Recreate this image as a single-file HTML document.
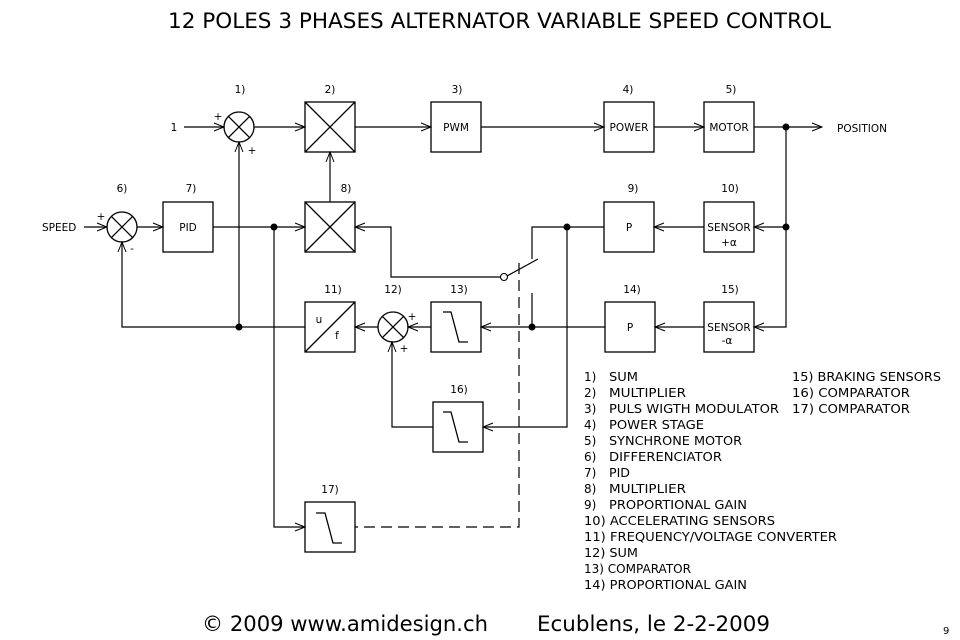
<!DOCTYPE html>
<html><head><meta charset="utf-8"><style>
html,body{margin:0;padding:0;background:#fff;}
svg{display:block;font-family:"DejaVu Sans","Liberation Sans",sans-serif;}
</style></head><body>
<svg width="960" height="640" viewBox="0 0 960 640" xmlns="http://www.w3.org/2000/svg">
<defs>
<marker id="a" markerWidth="12" markerHeight="12" refX="11" refY="6" orient="auto" markerUnits="userSpaceOnUse">
<path d="M1,2 L11,6 L1,10" fill="none" stroke="#000" stroke-width="1"/>
</marker>
</defs>
<rect width="960" height="640" fill="#fff"/>
<text x="168" y="28" font-size="21" textLength="663" lengthAdjust="spacingAndGlyphs">12 POLES 3 PHASES ALTERNATOR VARIABLE SPEED CONTROL</text>

<g fill="none" stroke="#000" stroke-width="1.3">
<rect x="305" y="102" width="50" height="50"/><path d="M305,102L355,152M355,102L305,152"/>
<rect x="431" y="102" width="50" height="50"/>
<rect x="604" y="102" width="50" height="50"/>
<rect x="704" y="102" width="50" height="50"/>
<rect x="163" y="202" width="50" height="50"/>
<rect x="305" y="202" width="50" height="50"/><path d="M305,202L355,252M355,202L305,252"/>
<rect x="604" y="202" width="50" height="50"/>
<rect x="704" y="202" width="50" height="50"/>
<rect x="305" y="302" width="50" height="50"/><path d="M305,352L355,302"/>
<rect x="431" y="302" width="50" height="50"/><path d="M443,312H451L459,342H468"/>
<rect x="605" y="302" width="50" height="50"/>
<rect x="704" y="302" width="50" height="50"/>
<rect x="433" y="402" width="50" height="50"/><path d="M443,412H451L459,442H468"/>
<rect x="305" y="502" width="50" height="50"/><path d="M316,513H325L333,543H342"/>
<circle cx="239" cy="127" r="15"/><path d="M228.4,116.4L249.6,137.6M249.6,116.4L228.4,137.6"/>
<circle cx="122" cy="227" r="15"/><path d="M111.4,216.4L132.6,237.6M132.6,216.4L111.4,237.6"/>
<circle cx="393" cy="327" r="15"/><path d="M382.4,316.4L403.6,337.6M403.6,316.4L382.4,337.6"/>
</g>

<g fill="none" stroke="#000" stroke-width="1.2" marker-end="url(#a)">
<path d="M184,127H224"/>
<path d="M254,127H305"/>
<path d="M355,127H431"/>
<path d="M481,127H604"/>
<path d="M654,127H704"/>
<path d="M754,127H822"/>
<path d="M84,227H107"/>
<path d="M137,227H163"/>
<path d="M213,227H305"/>
<path d="M330,202V152"/>
<path d="M239,327V142"/>
<path d="M305,327H122V242"/>
<path d="M704,227H654"/>
<path d="M786,227H754"/>
<path d="M786,127V327H754"/>
<path d="M704,327H655"/>
<path d="M605,327H481"/>
<path d="M431,327H408"/>
<path d="M378,327H355"/>
<path d="M433,427H392V342"/>
<path d="M567,227V427H483"/>
<path d="M274,227V527H305"/>
<path d="M504,277H391V227H355"/>
</g>
<g fill="none" stroke="#000" stroke-width="1.2">
<path d="M604,227H532V259"/>
<path d="M532,293V327"/>
<path d="M507,276L538,259"/>
<path d="M519,263V527H355" stroke-dasharray="11,6"/>
</g>
<circle cx="504" cy="277" r="3.5" fill="#fff" stroke="#000" stroke-width="1.1"/>
<g fill="#000">
<circle cx="786" cy="127" r="3.5"/><circle cx="786" cy="227" r="3.5"/>
<circle cx="274" cy="227" r="3.5"/><circle cx="239" cy="327" r="3.5"/>
<circle cx="567" cy="227" r="3.5"/><circle cx="532" cy="327" r="3.5"/>
</g>

<g font-size="10.5" text-anchor="middle">
<text x="240" y="93">1)</text><text x="330" y="93">2)</text><text x="457" y="93">3)</text>
<text x="628" y="93">4)</text><text x="731" y="93">5)</text>
<text x="122" y="192">6)</text><text x="191" y="192">7)</text><text x="346" y="192">8)</text>
<text x="633" y="192">9)</text><text x="730" y="192">10)</text>
<text x="333" y="293">11)</text><text x="393" y="293">12)</text><text x="459" y="293">13)</text>
<text x="632" y="293">14)</text><text x="730" y="293">15)</text>
<text x="459" y="393">16)</text><text x="330" y="493">17)</text>
<text x="456" y="131">PWM</text><text x="629" y="131">POWER</text><text x="729" y="131">MOTOR</text>
<text x="188" y="231">PID</text><text x="629" y="231">P</text>
<text x="729" y="231">SENSOR</text><text x="729" y="246">+α</text>
<text x="630" y="331">P</text>
<text x="729" y="331">SENSOR</text><text x="727" y="344">-α</text>
<text x="319" y="323">u</text><text x="337" y="339">f</text>
<text x="174" y="131">1</text>
<text x="218" y="120">+</text><text x="252" y="154">+</text>
<text x="101" y="220">+</text><text x="132" y="252">-</text>
<text x="412" y="320">+</text><text x="404" y="352">+</text>
</g>
<text x="42" y="231" font-size="10.5">SPEED</text>
<text x="837" y="132" font-size="10.5">POSITION</text>

<g font-size="12" lengthAdjust="spacingAndGlyphs">
<text x="584" y="381">1)</text><text x="609" y="381" textLength="29" lengthAdjust="spacingAndGlyphs">SUM</text>
<text x="584" y="397">2)</text><text x="609" y="397" textLength="77" lengthAdjust="spacingAndGlyphs">MULTIPLIER</text>
<text x="584" y="413">3)</text><text x="609" y="413" textLength="170" lengthAdjust="spacingAndGlyphs">PULS WIGTH MODULATOR</text>
<text x="584" y="429">4)</text><text x="609" y="429" textLength="95" lengthAdjust="spacingAndGlyphs">POWER STAGE</text>
<text x="584" y="445">5)</text><text x="609" y="445" textLength="133" lengthAdjust="spacingAndGlyphs">SYNCHRONE MOTOR</text>
<text x="584" y="461">6)</text><text x="609" y="461" textLength="113" lengthAdjust="spacingAndGlyphs">DIFFERENCIATOR</text>
<text x="584" y="477">7)</text><text x="609" y="477" textLength="21" lengthAdjust="spacingAndGlyphs">PID</text>
<text x="584" y="493">8)</text><text x="609" y="493" textLength="77" lengthAdjust="spacingAndGlyphs">MULTIPLIER</text>
<text x="584" y="509">9)</text><text x="609" y="509" textLength="138" lengthAdjust="spacingAndGlyphs">PROPORTIONAL GAIN</text>
<text x="584" y="525" textLength="191" lengthAdjust="spacingAndGlyphs">10) ACCELERATING SENSORS</text>
<text x="584" y="541" textLength="253" lengthAdjust="spacingAndGlyphs">11) FREQUENCY/VOLTAGE CONVERTER</text>
<text x="584" y="557" textLength="54" lengthAdjust="spacingAndGlyphs">12) SUM</text>
<text x="584" y="573" textLength="107" lengthAdjust="spacingAndGlyphs">13) COMPARATOR</text>
<text x="584" y="589" textLength="163" lengthAdjust="spacingAndGlyphs">14) PROPORTIONAL GAIN</text>
<text x="792" y="381" textLength="149" lengthAdjust="spacingAndGlyphs">15) BRAKING SENSORS</text>
<text x="792" y="397" textLength="118" lengthAdjust="spacingAndGlyphs">16) COMPARATOR</text>
<text x="792" y="413" textLength="118" lengthAdjust="spacingAndGlyphs">17) COMPARATOR</text>
</g>
<text x="202" y="631" font-size="21" textLength="286" lengthAdjust="spacingAndGlyphs">© 2009 www.amidesign.ch</text>
<text x="537" y="631" font-size="21" textLength="233" lengthAdjust="spacingAndGlyphs">Ecublens, le 2-2-2009</text>
<text x="943" y="634" font-size="10">9</text>
</svg>
</body></html>
